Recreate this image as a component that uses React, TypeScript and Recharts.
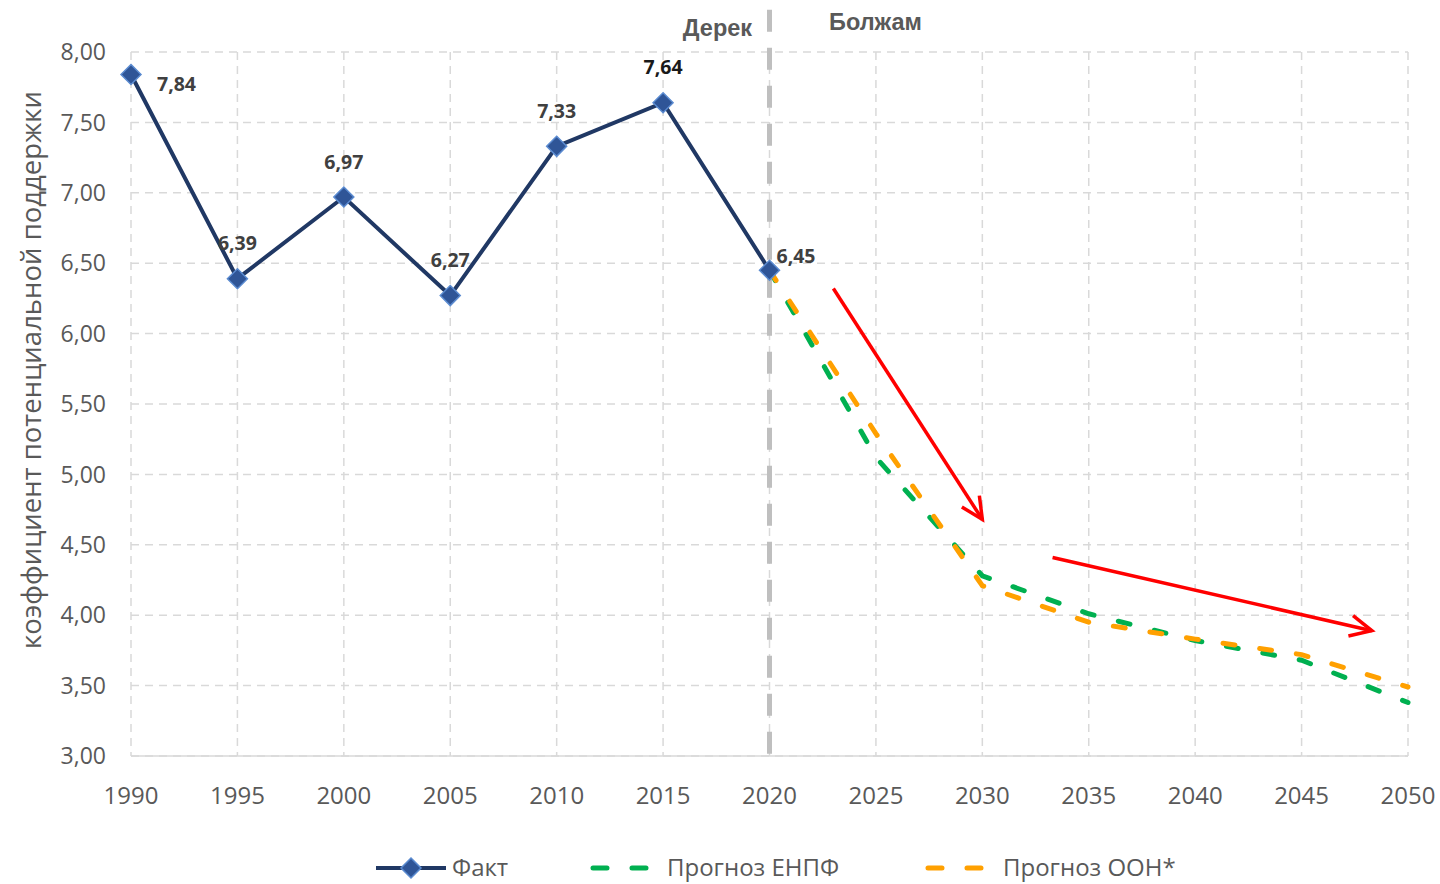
import React from 'react';
import { LineChart, Line, XAxis, YAxis, CartesianGrid, ReferenceLine, LabelList } from 'recharts';

const factYears = [1990, 1995, 2000, 2005, 2010, 2015, 2020];
const factValues = [7.84, 6.39, 6.97, 6.27, 7.33, 7.64, 6.45];
const forecastYears = [2020, 2025, 2030, 2035, 2040, 2045, 2050];
const enpfValues = [6.45, 5.12, 4.28, 4.01, 3.82, 3.68, 3.38];
const unValues = [6.45, 5.29, 4.21, 3.95, 3.83, 3.72, 3.49];
const xTicks = [1990, 1995, 2000, 2005, 2010, 2015, 2020, 2025, 2030, 2035, 2040, 2045, 2050];
const yTicks = [3, 3.5, 4, 4.5, 5, 5.5, 6, 6.5, 7, 7.5, 8];
const seriesNames = ['Факт', 'Прогноз ЕНПФ', 'Прогноз ООН*'];
const periodLabels = ['Дерек', 'Болжам'];
const yTitle = 'коэффициент потенциальной поддержки';

// arrows drawn on the chart, in data units
const arrowFrom1 = { x: 2023, y: 6.32 };
const arrowTo1 = { x: 2030, y: 4.68 };
const arrowFrom2 = { x: 2033.3, y: 4.41 };
const arrowTo2 = { x: 2048.3, y: 3.89 };

const factData = factYears.map((year, i) => ({ year, value: factValues[i] }));
const forecastData = forecastYears.map((year, i) => ({ year, enpf: enpfValues[i], un: unValues[i] }));

const NAVY = '#203864';
const GREEN = '#00b050';
const ORANGE = '#ffa000';
const TEXT = '#595959';
const FONT = '"Open Sans", sans-serif';

const fmt = (v: number) => v.toFixed(2).replace('.', ',');

const Diamond = (props: any) => {
  const { cx, cy } = props;
  if (cx == null || cy == null) return null;
  const r = 10;
  return (
    <polygon
      points={`${cx},${cy - r} ${cx + r},${cy} ${cx},${cy + r} ${cx - r},${cy}`}
      fill="#2f5597"
      stroke="#5b8bd0"
      strokeWidth={1.5}
    />
  );
};

const FactLabel = (props: any) => {
  const { x, y, value, index } = props;
  let dx = 0;
  let dy = -36;
  let anchor: 'start' | 'middle' = 'middle';
  if (index === 0) {
    dx = 26;
    dy = 9;
    anchor = 'start';
  } else if (index === factValues.length - 1) {
    dx = 7;
    dy = -15;
    anchor = 'start';
  }
  return (
    <text
      x={x + dx}
      y={y + dy}
      textAnchor={anchor}
      dominantBaseline="central"
      fontFamily={FONT}
      fontWeight={700}
      fontSize={19.5}
      fill={index === 5 ? '#1a1a1a' : '#404040'}
    >
      {fmt(value)}
    </text>
  );
};

const Arrow = (p: any) => {
  const { x1, y1, x2, y2 } = p;
  const a = Math.atan2(y2 - y1, x2 - x1);
  const len = 24;
  const spread = Math.PI / 7;
  const ax = x2 - len * Math.cos(a - spread);
  const ay = y2 - len * Math.sin(a - spread);
  const bx = x2 - len * Math.cos(a + spread);
  const by = y2 - len * Math.sin(a + spread);
  return (
    <g>
      <line x1={x1} y1={y1} x2={x2} y2={y2} stroke="#ff0000" strokeWidth={3.5} />
      <polyline points={`${ax},${ay} ${x2},${y2} ${bx},${by}`} fill="none" stroke="#ff0000" strokeWidth={3.5} />
    </g>
  );
};

const PeriodLabels = (props: any) => {
  const vb = props.viewBox || {};
  const x = vb.x ?? 769;
  const y = vb.y ?? 10;
  return (
    <g fontFamily='"Liberation Sans", Arial, sans-serif' fontWeight={700} fontSize={23.5} fill={TEXT}>
      <text x={x - 52} y={y + 26} textAnchor="middle">{periodLabels[0]}</text>
      <text x={x + 106} y={y + 20} textAnchor="middle">{periodLabels[1]}</text>
    </g>
  );
};

const YTitle = () => (
  <text
    x={30}
    y={370}
    transform="rotate(-90, 30, 370)"
    textAnchor="middle"
    dominantBaseline="central"
    fontFamily={FONT}
    fontSize={27.5}
    fill={TEXT}
  >
    {yTitle}
  </text>
);

const LegendBar = () => (
  <div
    style={{
      position: 'absolute',
      left: 0,
      top: 846,
      width: 1440,
      height: 38,
      fontFamily: FONT,
      fontSize: 24,
      lineHeight: '32px',
      color: TEXT,
    }}
  >
    <svg width={1440} height={38} style={{ position: 'absolute', left: 0, top: 0 }}>
      <line x1={376} y1={22} x2={446} y2={22} stroke={NAVY} strokeWidth={4} />
      <Diamond cx={411} cy={22} />
      <line x1={593} y1={22} x2={652} y2={22} stroke={GREEN} strokeWidth={5} strokeDasharray="14 25" strokeLinecap="round" />
      <line x1={928} y1={22} x2={987} y2={22} stroke={ORANGE} strokeWidth={5} strokeDasharray="14 25" strokeLinecap="round" />
    </svg>
    <span style={{ position: 'absolute', left: 452, top: 5 }}>{seriesNames[0]}</span>
    <span style={{ position: 'absolute', left: 667, top: 5 }}>{seriesNames[1]}</span>
    <span style={{ position: 'absolute', left: 1003, top: 5 }}>{seriesNames[2]}</span>
  </div>
);

export default function App() {
  return (
    <div style={{ position: 'absolute', left: 0, top: 0, width: 1440, height: 884, background: '#fff', overflow: 'hidden' }}>
      <LineChart width={1440} height={884} margin={{ top: 52, right: 32, left: 0, bottom: 68 }}>
        <CartesianGrid stroke="#d9d9d9" strokeDasharray="8 6" strokeWidth={1.5} />
        <XAxis
          dataKey="year"
          type="number"
          domain={[1990, 2050]}
          ticks={xTicks}
          interval={0}
          height={60}
          axisLine={{ stroke: '#d9d9d9', strokeWidth: 1.5 }}
          tickLine={false}
          tickMargin={25}
          tick={{ fill: TEXT, fontSize: 24, fontFamily: FONT }}
        />
        <YAxis
          type="number"
          domain={[3, 8]}
          ticks={yTicks}
          interval={0}
          width={131}
          axisLine={false}
          tickLine={false}
          tickMargin={19}
          tickFormatter={fmt}
          tick={{ fill: TEXT, fontSize: 23, fontFamily: FONT }}
          label={<YTitle />}
        />
        <ReferenceLine
          segment={[{ x: 2020, y: 8.3 }, { x: 2020, y: 3 }]}
          ifOverflow="visible"
          stroke="#bfbfbf"
          strokeWidth={5}
          strokeDasharray="22 16"
          label={<PeriodLabels />}
        />
        <ReferenceLine segment={[arrowFrom1, arrowTo1]} ifOverflow="visible" shape={Arrow} />
        <ReferenceLine segment={[arrowFrom2, arrowTo2]} ifOverflow="visible" shape={Arrow} />
        <Line
          data={factData}
          dataKey="value"
          name={seriesNames[0]}
          stroke={NAVY}
          strokeWidth={4}
          dot={<Diamond />}
          activeDot={false}
          isAnimationActive={false}
        >
          <LabelList dataKey="value" content={<FactLabel />} />
        </Line>
        <Line
          data={forecastData}
          dataKey="enpf"
          name={seriesNames[1]}
          stroke={GREEN}
          strokeWidth={5}
          strokeDasharray="12 25"
          strokeLinecap="round"
          dot={false}
          activeDot={false}
          isAnimationActive={false}
        />
        <Line
          data={forecastData}
          dataKey="un"
          name={seriesNames[2]}
          stroke={ORANGE}
          strokeWidth={5}
          strokeDasharray="12 25"
          strokeLinecap="round"
          dot={false}
          activeDot={false}
          isAnimationActive={false}
        />
      </LineChart>
      <LegendBar />
    </div>
  );
}
